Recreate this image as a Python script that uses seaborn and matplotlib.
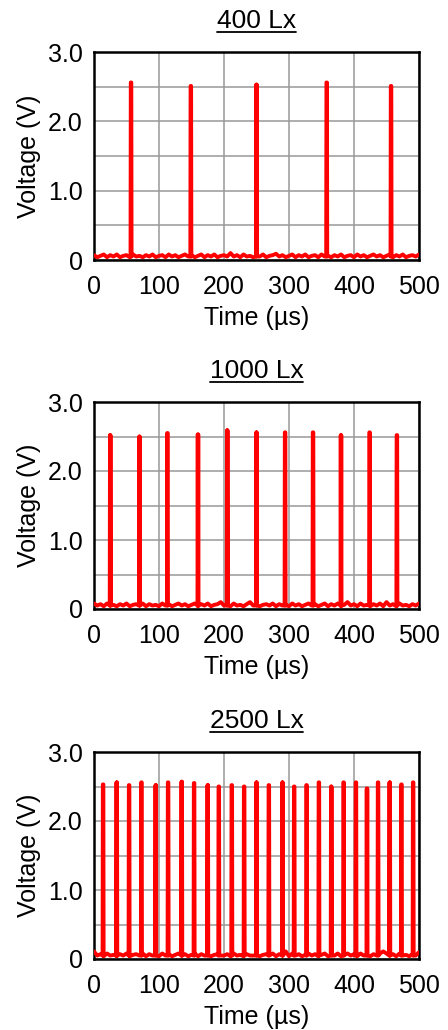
import numpy as np
import pandas as pd
import matplotlib
matplotlib.use("Agg")
import matplotlib.pyplot as plt
import seaborn as sns
from matplotlib.lines import Line2D

sns.set_theme(style="white")
plt.rcParams["font.family"] = ["Liberation Sans", "DejaVu Sans"]

# ---------------- data ----------------
titles = ["400 Lx", "1000 Lx", "2500 Lx"]

peak_t_400 = [57, 149, 250, 358, 457]
peak_v_400 = [2.56, 2.51, 2.53, 2.56, 2.51]

peak_t_1000 = [25, 70, 113, 160, 205, 250, 294, 337, 380, 424, 466]
peak_v_1000 = [2.52, 2.50, 2.55, 2.53, 2.59, 2.56, 2.56, 2.56, 2.52, 2.56, 2.52]

peak_t_2500 = [14, 35, 54, 73, 95, 114, 135, 154, 175, 192, 212, 231, 250,
               269, 290, 308, 327, 346, 365, 384, 403, 420, 437, 455, 473, 491]
peak_v_2500 = [2.53, 2.56, 2.52, 2.56, 2.52, 2.56, 2.57, 2.55, 2.52, 2.50,
               2.52, 2.50, 2.56, 2.52, 2.56, 2.50, 2.52, 2.56, 2.50, 2.56,
               2.56, 2.47, 2.56, 2.56, 2.53, 2.56]

# baseline noise, sampled every 5 us from 0 to 500
base_t = list(range(0, 501, 5))
base_400 = [0.07, 0.04, 0.06, 0.08, 0.04, 0.07, 0.05, 0.08, 0.04, 0.06,
            0.07, 0.04, 0.08, 0.05, 0.06, 0.04, 0.07, 0.05, 0.08, 0.04,
            0.06, 0.07, 0.04, 0.08, 0.05, 0.07, 0.04, 0.06, 0.08, 0.05,
            0.07, 0.04, 0.06, 0.08, 0.04, 0.07, 0.05, 0.08, 0.04, 0.06,
            0.07, 0.05, 0.10, 0.05, 0.07, 0.04, 0.08, 0.05, 0.06, 0.04,
            0.07, 0.05, 0.08, 0.04, 0.06, 0.07, 0.09, 0.05, 0.07, 0.04,
            0.06, 0.08, 0.04, 0.07, 0.05, 0.08, 0.04, 0.06, 0.07, 0.04,
            0.08, 0.05, 0.06, 0.04, 0.07, 0.05, 0.08, 0.04, 0.06, 0.07,
            0.04, 0.08, 0.05, 0.07, 0.04, 0.06, 0.08, 0.05, 0.07, 0.04,
            0.06, 0.08, 0.04, 0.07, 0.05, 0.08, 0.04, 0.06, 0.07, 0.05,
            0.08]
base_1000 = [0.08, 0.05, 0.07, 0.04, 0.08, 0.05, 0.06, 0.04, 0.07, 0.05,
             0.08, 0.04, 0.06, 0.07, 0.05, 0.08, 0.04, 0.07, 0.05, 0.06,
             0.04, 0.08, 0.05, 0.07, 0.04, 0.06, 0.08, 0.05, 0.07, 0.04,
             0.06, 0.08, 0.04, 0.07, 0.05, 0.08, 0.04, 0.06, 0.07, 0.10,
             0.05, 0.07, 0.04, 0.08, 0.05, 0.06, 0.04, 0.07, 0.10, 0.05,
             0.08, 0.04, 0.06, 0.07, 0.05, 0.08, 0.04, 0.07, 0.05, 0.06,
             0.04, 0.08, 0.05, 0.07, 0.04, 0.06, 0.08, 0.05, 0.07, 0.04,
             0.06, 0.08, 0.04, 0.07, 0.05, 0.08, 0.04, 0.06, 0.10, 0.05,
             0.07, 0.04, 0.08, 0.05, 0.06, 0.04, 0.07, 0.05, 0.08, 0.04,
             0.10, 0.05, 0.07, 0.04, 0.08, 0.05, 0.06, 0.04, 0.07, 0.05,
             0.08]
base_2500 = [0.11, 0.05, 0.07, 0.04, 0.08, 0.05, 0.06, 0.04, 0.07, 0.05,
             0.08, 0.04, 0.06, 0.07, 0.05, 0.08, 0.04, 0.07, 0.05, 0.06,
             0.04, 0.08, 0.05, 0.07, 0.04, 0.06, 0.08, 0.05, 0.07, 0.04,
             0.06, 0.08, 0.04, 0.07, 0.05, 0.08, 0.04, 0.06, 0.07, 0.05,
             0.05, 0.07, 0.04, 0.08, 0.05, 0.06, 0.04, 0.07, 0.05, 0.05,
             0.08, 0.04, 0.06, 0.07, 0.05, 0.08, 0.04, 0.07, 0.05, 0.11,
             0.04, 0.08, 0.05, 0.07, 0.04, 0.06, 0.08, 0.05, 0.07, 0.04,
             0.06, 0.08, 0.04, 0.07, 0.05, 0.08, 0.04, 0.06, 0.08, 0.05,
             0.07, 0.04, 0.08, 0.05, 0.06, 0.04, 0.07, 0.05, 0.08, 0.11,
             0.08, 0.05, 0.07, 0.04, 0.08, 0.05, 0.06, 0.04, 0.07, 0.05,
             0.10]

x_ticks = [0, 100, 200, 300, 400, 500]
y_ticks = [0, 1, 2, 3]
y_tick_labels = ["0", "1.0", "2.0", "3.0"]
y_minor = [0.5, 1.5, 2.5]

panels = [
    (titles[0], peak_t_400, peak_v_400, base_400),
    (titles[1], peak_t_1000, peak_v_1000, base_1000),
    (titles[2], peak_t_2500, peak_v_2500, base_2500),
]


def build_trace(peak_t, peak_v, base_v):
    pts = list(zip(base_t, base_v))
    for t, v in zip(peak_t, peak_v):
        pts += [(t - 0.8, 0.05), (t - 0.4, v), (t + 0.4, v), (t + 0.8, 0.05)]
    pts.sort(key=lambda p: p[0])
    return pd.DataFrame(pts, columns=["Time", "Voltage"])


# ---------------- figure ----------------
W, H = 448, 1030
fig = plt.figure(figsize=(W / 100, H / 100), dpi=100)
fig.patch.set_facecolor("white")

# axes boxes in pixels: (left, top, right, bottom)
boxes = [(94, 52, 419, 260), (94, 402, 419, 609), (94, 752, 419, 959)]

axes = []
for (title, pt, pv, bv), (l, t, r, b) in zip(panels, boxes):
    ax = fig.add_axes([l / W, (H - b) / H, (r - l) / W, (b - t) / H])
    df = build_trace(pt, pv, bv)
    sns.lineplot(data=df, x="Time", y="Voltage", ax=ax, color="#ff0000",
                 lw=2.8, sort=False, estimator=None, zorder=3)
    ax.set_xlim(0, 500)
    ax.set_ylim(0, 3)
    ax.set_xticks(x_ticks)
    ax.set_xticklabels([str(v) for v in x_ticks])
    ax.set_yticks(y_ticks)
    ax.set_yticklabels(y_tick_labels)
    ax.set_yticks(y_minor, minor=True)
    ax.set_axisbelow(True)
    ax.grid(True, which="major", color="#999999", lw=1.1)
    ax.yaxis.grid(True, which="minor", color="#999999", lw=1.1)
    ax.tick_params(axis="both", which="both", length=0, labelsize=18,
                   colors="black")
    ax.tick_params(axis="x", pad=11)
    ax.tick_params(axis="y", pad=8)
    for s in ax.spines.values():
        s.set_visible(True)
        s.set_color("black")
        s.set_linewidth(1.8)
    ax.set_xlabel("Time (µs)", fontsize=18, labelpad=5, color="black")
    ax.set_ylabel("Voltage (V)", fontsize=18, labelpad=5, color="black")
    ax.set_title(title, fontsize=19, pad=17, color="black")
    axes.append(ax)

# underline the titles
fig.canvas.draw()
renderer = fig.canvas.get_renderer()
for ax in axes:
    bb = ax.title.get_window_extent(renderer)
    y = (bb.y0 + 1) / H
    fig.add_artist(Line2D([bb.x0 / W, bb.x1 / W], [y, y], color="black",
                          lw=1.3, transform=fig.transFigure))

fig.savefig("out.png", dpi=100, facecolor="white")
